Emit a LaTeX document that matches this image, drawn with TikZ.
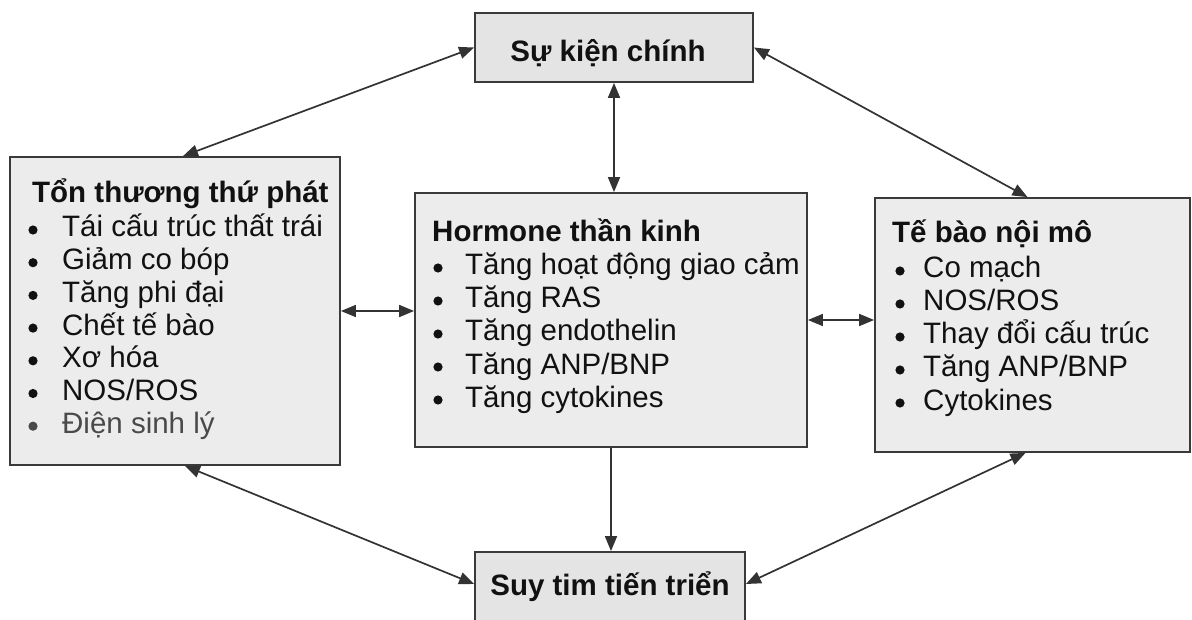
\documentclass[tikz,border=0pt]{standalone}
\usepackage{fontspec}
\setmainfont{Liberation Sans}
\usetikzlibrary{arrows.meta}
\definecolor{boxfill}{HTML}{ECECEC}
\definecolor{boxfilldark}{HTML}{E4E4E4}
\definecolor{boxline}{HTML}{3A3A3A}
\definecolor{ink}{HTML}{111111}
\definecolor{softink}{HTML}{4A4A4A}
\definecolor{wire}{HTML}{333333}

\begin{document}
\begin{tikzpicture}[x=1pt,y=-1pt,
  box/.style={draw=boxline, line width=1.8pt, fill=boxfill, inner sep=0pt},
  head/.style={font=\fontsize{29.5}{33}\selectfont\bfseries, text=ink, inner sep=0pt},
  item/.style={font=\fontsize{29.5}{33}\selectfont, text=ink, inner sep=0pt, anchor=base west},
  link/.style={draw=wire, line width=1.7pt, {Triangle[length=15pt,width=12pt]}-{Triangle[length=15pt,width=12pt]}},
  onelink/.style={draw=wire, line width=1.7pt, -{Triangle[length=15pt,width=12pt]}},
]
\useasboundingbox (0,0) rectangle (1192,620);

% boxes
\node[box, fill=boxfilldark, minimum width=278pt, minimum height=69pt] (event) at (614,47.5) {};
\node[box, minimum width=330pt, minimum height=308pt] (secondary) at (175,311) {};
\node[box, minimum width=392pt, minimum height=254pt] (neuro) at (611,320) {};
\node[box, minimum width=315pt, minimum height=254pt] (endo) at (1032.5,325) {};
\node[box, fill=boxfilldark, minimum width=270pt, minimum height=80pt] (outcome) at (610,592) {};

% box titles
\node[head, anchor=base] (eventT) at (608,62) {Sự kiện chính};
\node[head, anchor=base] (outcomeT) at (610,595) {Suy tim tiến triển};
\node[head, anchor=base west] (secondaryT) at (32,203) {Tổn thương thứ phát};
\node[head, anchor=base west] (neuroT) at (432,242) {Hormone thần kinh};
\node[head, anchor=base west] (endoT) at (892,243) {Tế bào nội mô};

% left list
\foreach \t [count=\i from 0] in {Tái cấu trúc thất trái, Giảm co bóp, Tăng phi đại, Chết tế bào, Xơ hóa, NOS/ROS}{
  \fill[ink] (33,{230+32.7*\i}) circle (4.6pt);
  \node[item] (S\i) at (62,{237+32.7*\i}) {\t};
}
\fill[softink] (33,{230+32.7*6}) circle (4.6pt);
\node[item, text=softink] (S6) at (62,{237+32.7*6}) {Điện sinh lý};

% middle list
\foreach \t [count=\i from 0] in {Tăng hoạt động giao cảm, Tăng RAS, Tăng endothelin, Tăng ANP/BNP, Tăng cytokines}{
  \fill[ink] (438,{268+33*\i}) circle (4.6pt);
  \node[item] (N\i) at (465,{275+33*\i}) {\t};
}

% right list
\foreach \t [count=\i from 0] in {Co mạch, NOS/ROS, Thay đổi cấu trúc, Tăng ANP/BNP, Cytokines}{
  \fill[ink] (900,{271+33*\i}) circle (4.6pt);
  \node[item] (E\i) at (923,{278+33*\i}) {\t};
}

% connectors
\draw[link] ([xshift=8pt]secondary.north) -- (event.west);
\draw[link] (event.east) -- ([xshift=-5pt]endo.north);
\draw[link] (event.south) -- (event.south |- neuro.north);
\draw[link] (secondary.east) -- (secondary.east -| neuro.west);
\draw[link] (neuro.east) -- (neuro.east -| endo.west);
\draw[onelink] (neuro.south) -- (neuro.south |- outcome.north);
\draw[link] ([xshift=10pt]secondary.south) -- ([yshift=8pt]outcome.west);
\draw[link] ([xshift=-7pt]endo.south) -- ([yshift=8pt]outcome.east);
\end{tikzpicture}
\end{document}
